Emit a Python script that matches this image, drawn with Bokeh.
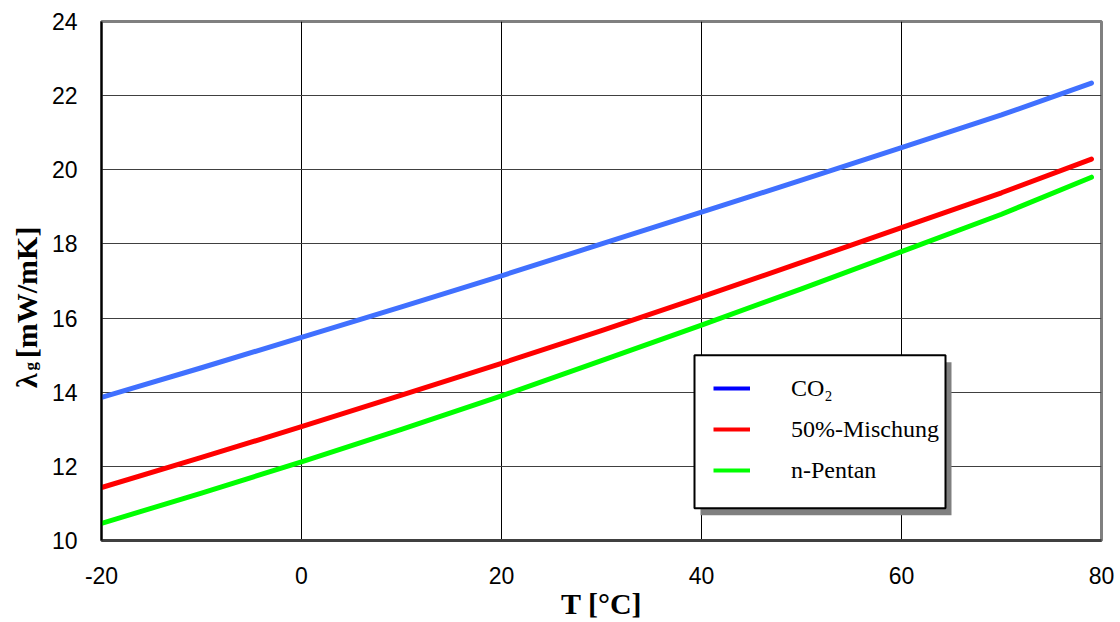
from bokeh.plotting import figure
from bokeh.models import (FixedTicker, Legend, LegendItem, BoxAnnotation, Label,
                          ColumnDataSource, Range1d)
from bokeh.embed import file_html
from bokeh.resources import INLINE
import math

# ---- data ----
temp = [-20, -10, 0, 10, 20, 30, 40, 50, 60, 70, 79]
co2 = [13.86, 14.66, 15.48, 16.30, 17.14, 18.00, 18.86, 19.72, 20.60, 21.48, 22.34]
mix50 = [11.43, 12.24, 13.07, 13.92, 14.78, 15.66, 16.57, 17.50, 18.44, 19.38, 20.29]
pentan = [10.46, 11.28, 12.12, 13.00, 13.90, 14.85, 15.81, 16.79, 17.79, 18.80, 19.80]

series_names = ["CO₂", "50%-Mischung", "n-Pentan"]
x_ticks = [-20, 0, 20, 40, 60, 80]
y_ticks = [10, 12, 14, 16, 18, 20, 22, 24]
x_tick_labels = ["-20", "0", "20", "40", "60", "80"]

line_colors = ["#4070FF", "#FF0000", "#00FF00"]
legend_colors = ["#0000FF", "#FF0000", "#00FF00"]

src = ColumnDataSource(dict(t=temp, co2=co2, mix=mix50, pen=pentan))

p = figure(width=1120, height=622, output_backend="svg", toolbar_location=None,
           x_range=Range1d(-20, 80), y_range=Range1d(10, 24),
           min_border_left=101, min_border_right=19, min_border_top=21,
           min_border_bottom=82)
p.background_fill_color = "white"
p.border_fill_color = "white"
p.outline_line_color = "#808080"
p.outline_line_width = 3

# axes
for ax in (p.xaxis, p.yaxis):
    ax.major_tick_line_color = None
    ax.minor_tick_line_color = None
    ax.major_label_text_font = "Liberation Sans"
    ax.major_label_text_font_size = "23px"
    ax.major_label_text_color = "black"
    ax.axis_label_text_font = "Liberation Serif"
    ax.axis_label_text_font_style = "bold"
    ax.axis_label_text_font_size = "30px"
    ax.axis_label_text_color = "black"
p.xaxis.ticker = FixedTicker(ticks=x_ticks)
p.yaxis.ticker = FixedTicker(ticks=y_ticks)
p.xaxis.major_label_overrides = {t: s for t, s in zip(x_ticks, x_tick_labels)}
p.xaxis.major_label_standoff = 20
p.yaxis.major_label_standoff = 18
p.xaxis.axis_label = "T [°C]"
p.xaxis.axis_label_standoff = 0
# gap after λ leaves room for the subscript g; trailing spaces shift the centre
p.yaxis.axis_label = "λ\u00a0\u00a0[mW/mK]" + "\u00a0" * 7
p.yaxis.axis_label_standoff = 6
p.xaxis.axis_line_color = "#404040"
p.xaxis.axis_line_width = 3
p.yaxis.axis_line_color = "black"
p.yaxis.axis_line_width = 2

p.xgrid.grid_line_color = "black"
p.xgrid.grid_line_width = 1
p.ygrid.grid_line_color = "#404040"
p.ygrid.grid_line_width = 1

# data lines
for col, c in zip(["co2", "mix", "pen"], line_colors):
    p.line("t", col, source=src, line_color=c, line_width=5, line_cap="round",
           line_join="round")

# legend box with shadow
shadow = BoxAnnotation(left=39.9, right=65.0, top=14.81, bottom=10.68,
                       fill_color="#808080", fill_alpha=1, line_color=None)
box = BoxAnnotation(left=39.3, right=64.4, top=15.0, bottom=10.87,
                    fill_color="white", fill_alpha=1, line_color="black",
                    line_alpha=1, line_width=2)
p.add_layout(shadow)
p.add_layout(box)

legend_renderers = []
for c in legend_colors:
    r = p.line(x=[-100], y=[float("nan")], line_color=c, line_width=4)
    legend_renderers.append(r)

legend = Legend(items=[LegendItem(label=n, renderers=[r])
                       for n, r in zip(series_names, legend_renderers)],
                location=(612, 55), padding=0, margin=0, spacing=11,
                glyph_width=37, glyph_height=30, label_height=30,
                label_standoff=41, label_text_color="black",
                label_text_font="Liberation Serif", label_text_font_size="24px",
                border_line_color=None, background_fill_alpha=0)
p.add_layout(legend, "center")

# subscript g of the y-axis title (placed in the top side panel, not clipped)
p.add_layout(Label(x=-71, y=-349, x_units="screen", y_units="screen",
                   text="g", angle=math.pi / 2, text_align="left",
                   text_baseline="alphabetic", text_font_size="17px",
                   text_font="Liberation Serif", text_font_style="bold",
                   text_color="black"), "above")

open("out.html", "w").write(file_html(p, INLINE))
